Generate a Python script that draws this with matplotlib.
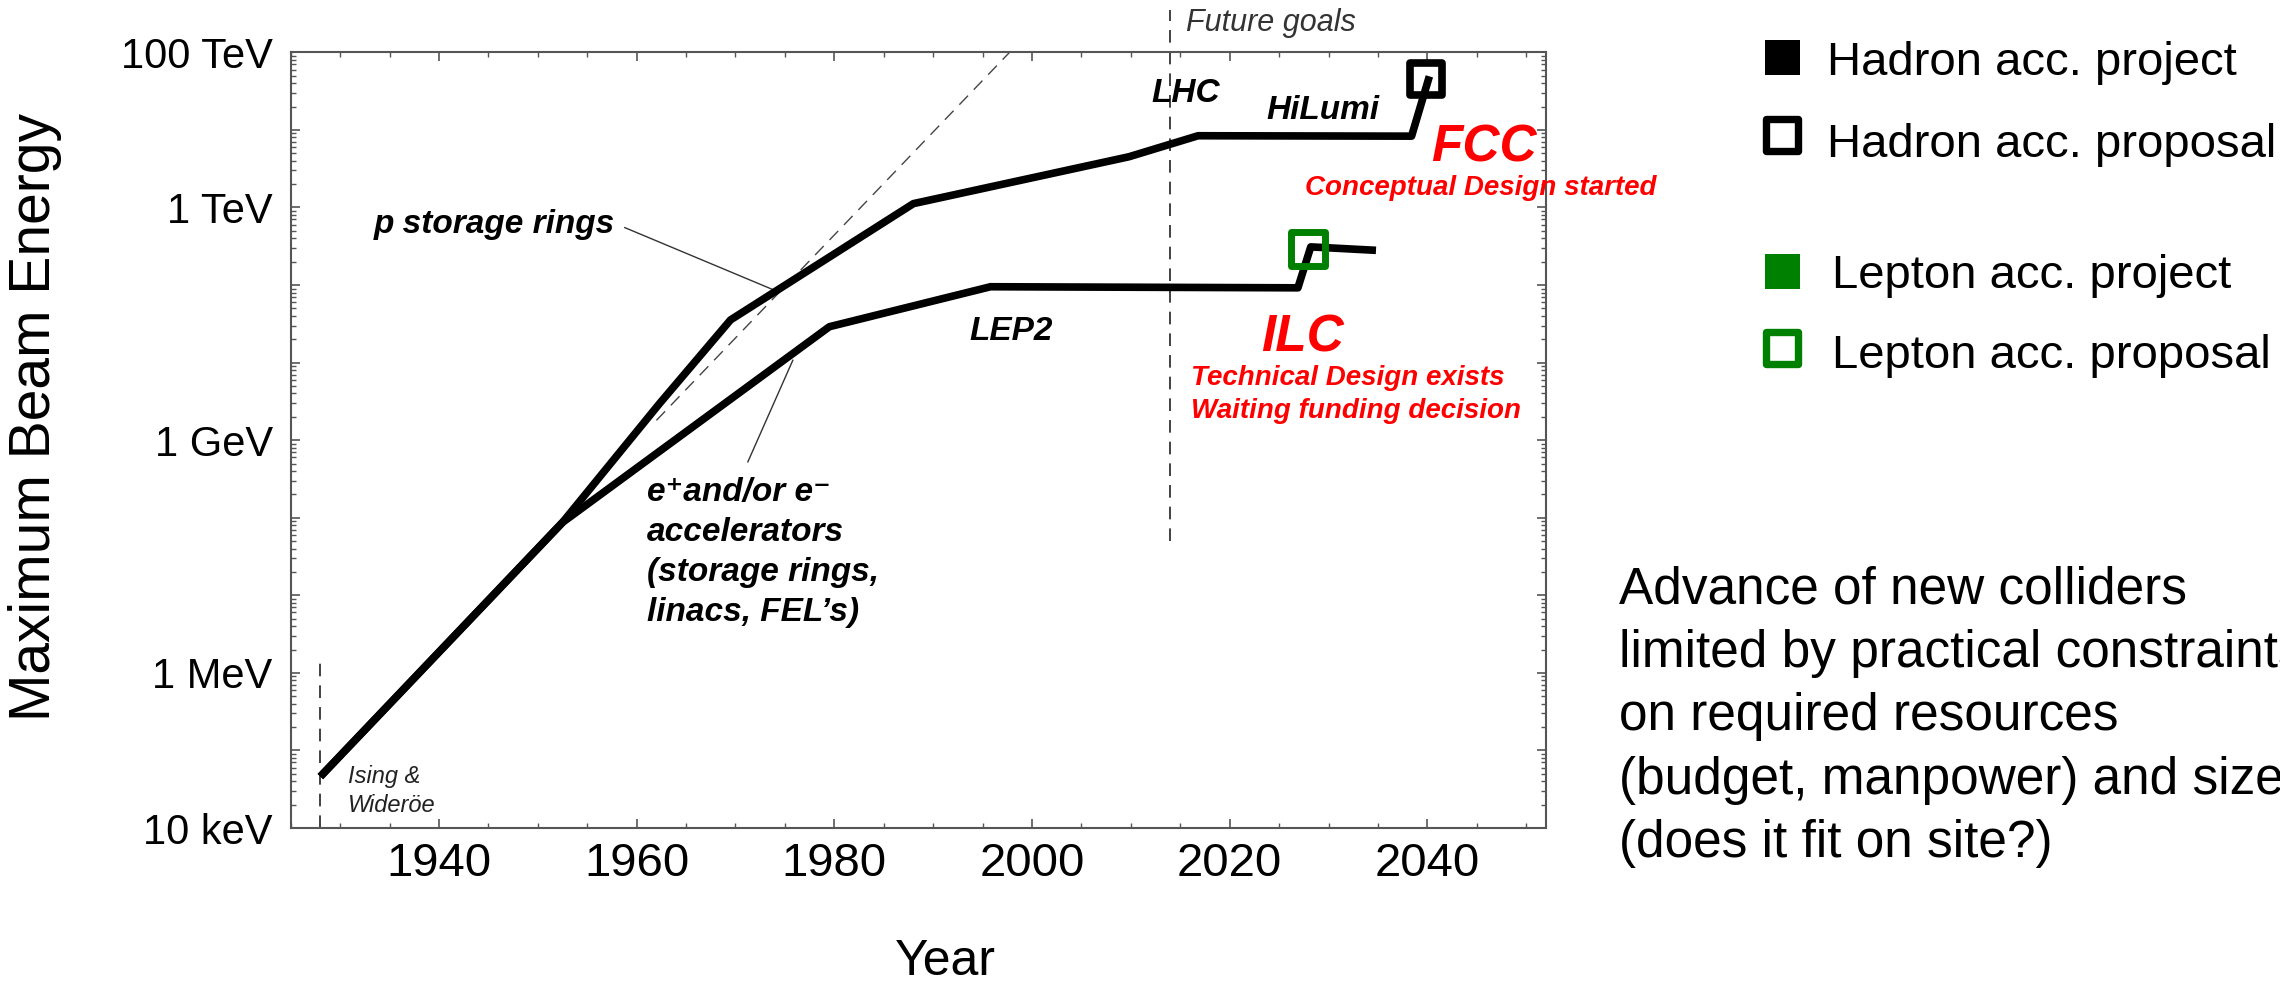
import matplotlib
matplotlib.use('Agg')
import matplotlib.pyplot as plt
from matplotlib.lines import Line2D
from matplotlib.markers import MarkerStyle
from matplotlib.ticker import LogLocator, MultipleLocator, NullFormatter, FuncFormatter
import numpy as np

plt.rcParams['font.family'] = ['Liberation Sans', 'DejaVu Sans']

# hadron machines: year, maximum beam energy in eV
hadron_years = [1928, 1952.5, 1962.3, 1969.5, 1988.0, 2009.8, 2016.8, 2038.4, 2040.2]
hadron_energy = [4.6e4, 8.7e7, 2.95e9, 3.55e10, 1.12e12, 4.5e12, 8.4e12, 8.3e12, 4.9e13]

# e+/e- machines
lepton_years = [1928, 1952.5, 1979.5, 1995.8, 2026.9, 2028.2, 2034.8]
lepton_energy = [4.6e4, 8.7e7, 2.9e10, 9.5e10, 9.2e10, 3.1e11, 2.8e11]

# proposals
fcc_year, fcc_energy = 2039.9, 4.5e13
ilc_year, ilc_energy = 2027.9, 2.9e11

# exponential trend (dashed)
trend_years = [1962.0, 2000.0]
trend_energy = [1.8e9, 2.0e14]

ising_year, ising_top = 1928, 1.4e6
future_year, future_span = 2014, (5.0e7, 3.5e14)

ytick_labels = {1e4: '10 keV', 1e6: '1 MeV', 1e9: '1 GeV', 1e12: '1 TeV', 1e14: '100 TeV'}

legend_items = ['Hadron acc. project', 'Hadron acc. proposal',
                'Lepton acc. project', 'Lepton acc. proposal']
legend_colors = ['black', 'black', 'green', 'green']
legend_filled = [True, False, True, False]

ee_lines = ['e\u207aand/or e\u207b', 'accelerators', '(storage rings,', 'linacs, FEL\u2019s)']
note_lines = ['Advance of new colliders', 'limited by practical constraints',
              'on required resources', '(budget, manpower) and size',
              '(does it fit on site?)']

W, H = 2280, 988
fig = plt.figure(figsize=(W / 100, H / 100), dpi=100)
ax = fig.add_axes([290.7 / W, 1 - 828 / H, (1546 - 290.7) / W, (828 - 52.3) / H])
ax.set_yscale('log')
ax.set_xlim(1925, 2052)
ax.set_ylim(1e4, 1e14)

# guide lines
ax.plot(trend_years, trend_energy, color='#444444', lw=1.0, dashes=(9, 6), zorder=1)
ax.plot([ising_year, ising_year], [1e4, ising_top], color='#333333', lw=1.3,
        dashes=(7, 5), clip_on=False, zorder=1)
ax.plot([future_year, future_year], list(future_span), color='#333333', lw=1.3,
        dashes=(7, 5), clip_on=False, zorder=1)

# main curves
ax.plot(hadron_years, hadron_energy, color='black', lw=5.5, solid_capstyle='butt', zorder=3)
ax.plot(lepton_years, lepton_energy, color='black', lw=5.5, solid_capstyle='butt', zorder=3)

ms_open = MarkerStyle('s', fillstyle='none', joinstyle='round')
ax.plot(fcc_year, fcc_energy, ls='none', marker=ms_open, ms=23.5, mew=5.5,
        color='black', zorder=5)
ax.plot(ilc_year, ilc_energy, ls='none', marker=ms_open, ms=24.5, mew=5.0,
        color='green', zorder=5)

# leader lines
ax.plot([1958.8, 1973.8], [10**11.74, 10**10.94], color='#333333', lw=1.0, zorder=2)
ax.plot([1975.8, 1971.25], [10**10.03, 10**8.72], color='#333333', lw=1.0, zorder=2)

lab = dict(fontsize=24, fontweight='bold', style='italic', color='black')
ax.text(1933.4, 4.7e11, 'p storage rings', ha='left', va='baseline', **lab)
ax.text(1997.9, 1.95e10, 'LEP2', ha='center', va='baseline', **lab)
ax.text(2015.5, 2.3e13, 'LHC', ha='center', va='baseline', **lab)
ax.text(2029.4, 1.4e13, 'HiLumi', ha='center', va='baseline', **lab)
for i, line in enumerate(ee_lines):
    ax.annotate(line, xy=(1961.0, 10**8.21), xytext=(0, -28.8 * i),
                textcoords='offset points', ha='left', va='baseline', **lab)

red = dict(fontweight='bold', style='italic', color='red')
ax.text(2045.7, 3.9e12, 'FCC', ha='center', va='baseline', fontsize=37, **red)
ax.text(2045.4, 1.45e12, 'Conceptual Design started', ha='center', va='baseline',
        fontsize=20, clip_on=False, **red)
ax.text(2027.4, 1.38e10, 'ILC', ha='center', va='baseline', fontsize=37, **red)
ax.text(2016.05, 5.1e9, 'Technical Design exists', ha='left', va='baseline', fontsize=20, **red)
ax.text(2016.05, 1.93e9, 'Waiting funding decision', ha='left', va='baseline', fontsize=20, **red)

ax.text(2015.6, 1.87e14, 'Future goals', ha='left', va='baseline', fontsize=22,
        style='italic', color='#333333', clip_on=False)
for i, line in enumerate(['Ising &', 'Wider\u00f6e']):
    ax.annotate(line, xy=(1930.76, 3.84e4), xytext=(0, -20.9 * i),
                textcoords='offset points', ha='left', va='baseline',
                fontsize=17, style='italic', color='#222222')

# axes styling
ax.xaxis.set_major_locator(MultipleLocator(20))
ax.xaxis.set_minor_locator(MultipleLocator(5))
ax.yaxis.set_major_locator(LogLocator(base=10, numticks=20))
ax.yaxis.set_minor_locator(LogLocator(base=10, subs=np.arange(2, 10), numticks=20))
ax.yaxis.set_minor_formatter(NullFormatter())
ax.yaxis.set_major_formatter(FuncFormatter(
    lambda v, p: next((t for k, t in ytick_labels.items() if abs(np.log10(v) - np.log10(k)) < 1e-6), '')))
ax.tick_params(which='both', direction='in', top=True, right=True, color='#555555')
ax.tick_params(which='major', length=6.5, width=1.2)
ax.tick_params(which='minor', length=3.3, width=1.0)
ax.tick_params(axis='x', labelsize=34, pad=10)
ax.tick_params(axis='y', labelsize=30, pad=13)
for s in ax.spines.values():
    s.set_color('#555555')
    s.set_linewidth(1.5)

fig.text(945 / W, 1 - 975 / H, 'Year', ha='center', va='baseline', fontsize=36)
fig.text(50 / W, 1 - 417 / H, 'Maximum Beam Energy', rotation=90, rotation_mode='anchor',
         ha='center', va='baseline', fontsize=41)

# legend
sq_y = [57.5, 135, 270.8, 348]
txt_x = [1826.8, 1826.8, 1831.6, 1831.6]
txt_base = [75, 156.7, 288.3, 368.3]
for i, name in enumerate(legend_items):
    if legend_filled[i]:
        mk = dict(marker='s', ms=25.2, mew=0, color=legend_colors[i])
    else:
        mk = dict(marker=ms_open, ms=23.0, mew=5.3, color=legend_colors[i])
    fig.add_artist(Line2D([1782 / W], [1 - sq_y[i] / H], ls='none',
                          transform=fig.transFigure, **mk))
    fig.text(txt_x[i] / W, 1 - txt_base[i] / H, name, ha='left', va='baseline', fontsize=34)

for i, line in enumerate(note_lines):
    fig.text(1619 / W, 1 - (603 + 63.5 * i) / H, line, ha='left', va='baseline', fontsize=37)

fig.savefig('out.png', dpi=100)
